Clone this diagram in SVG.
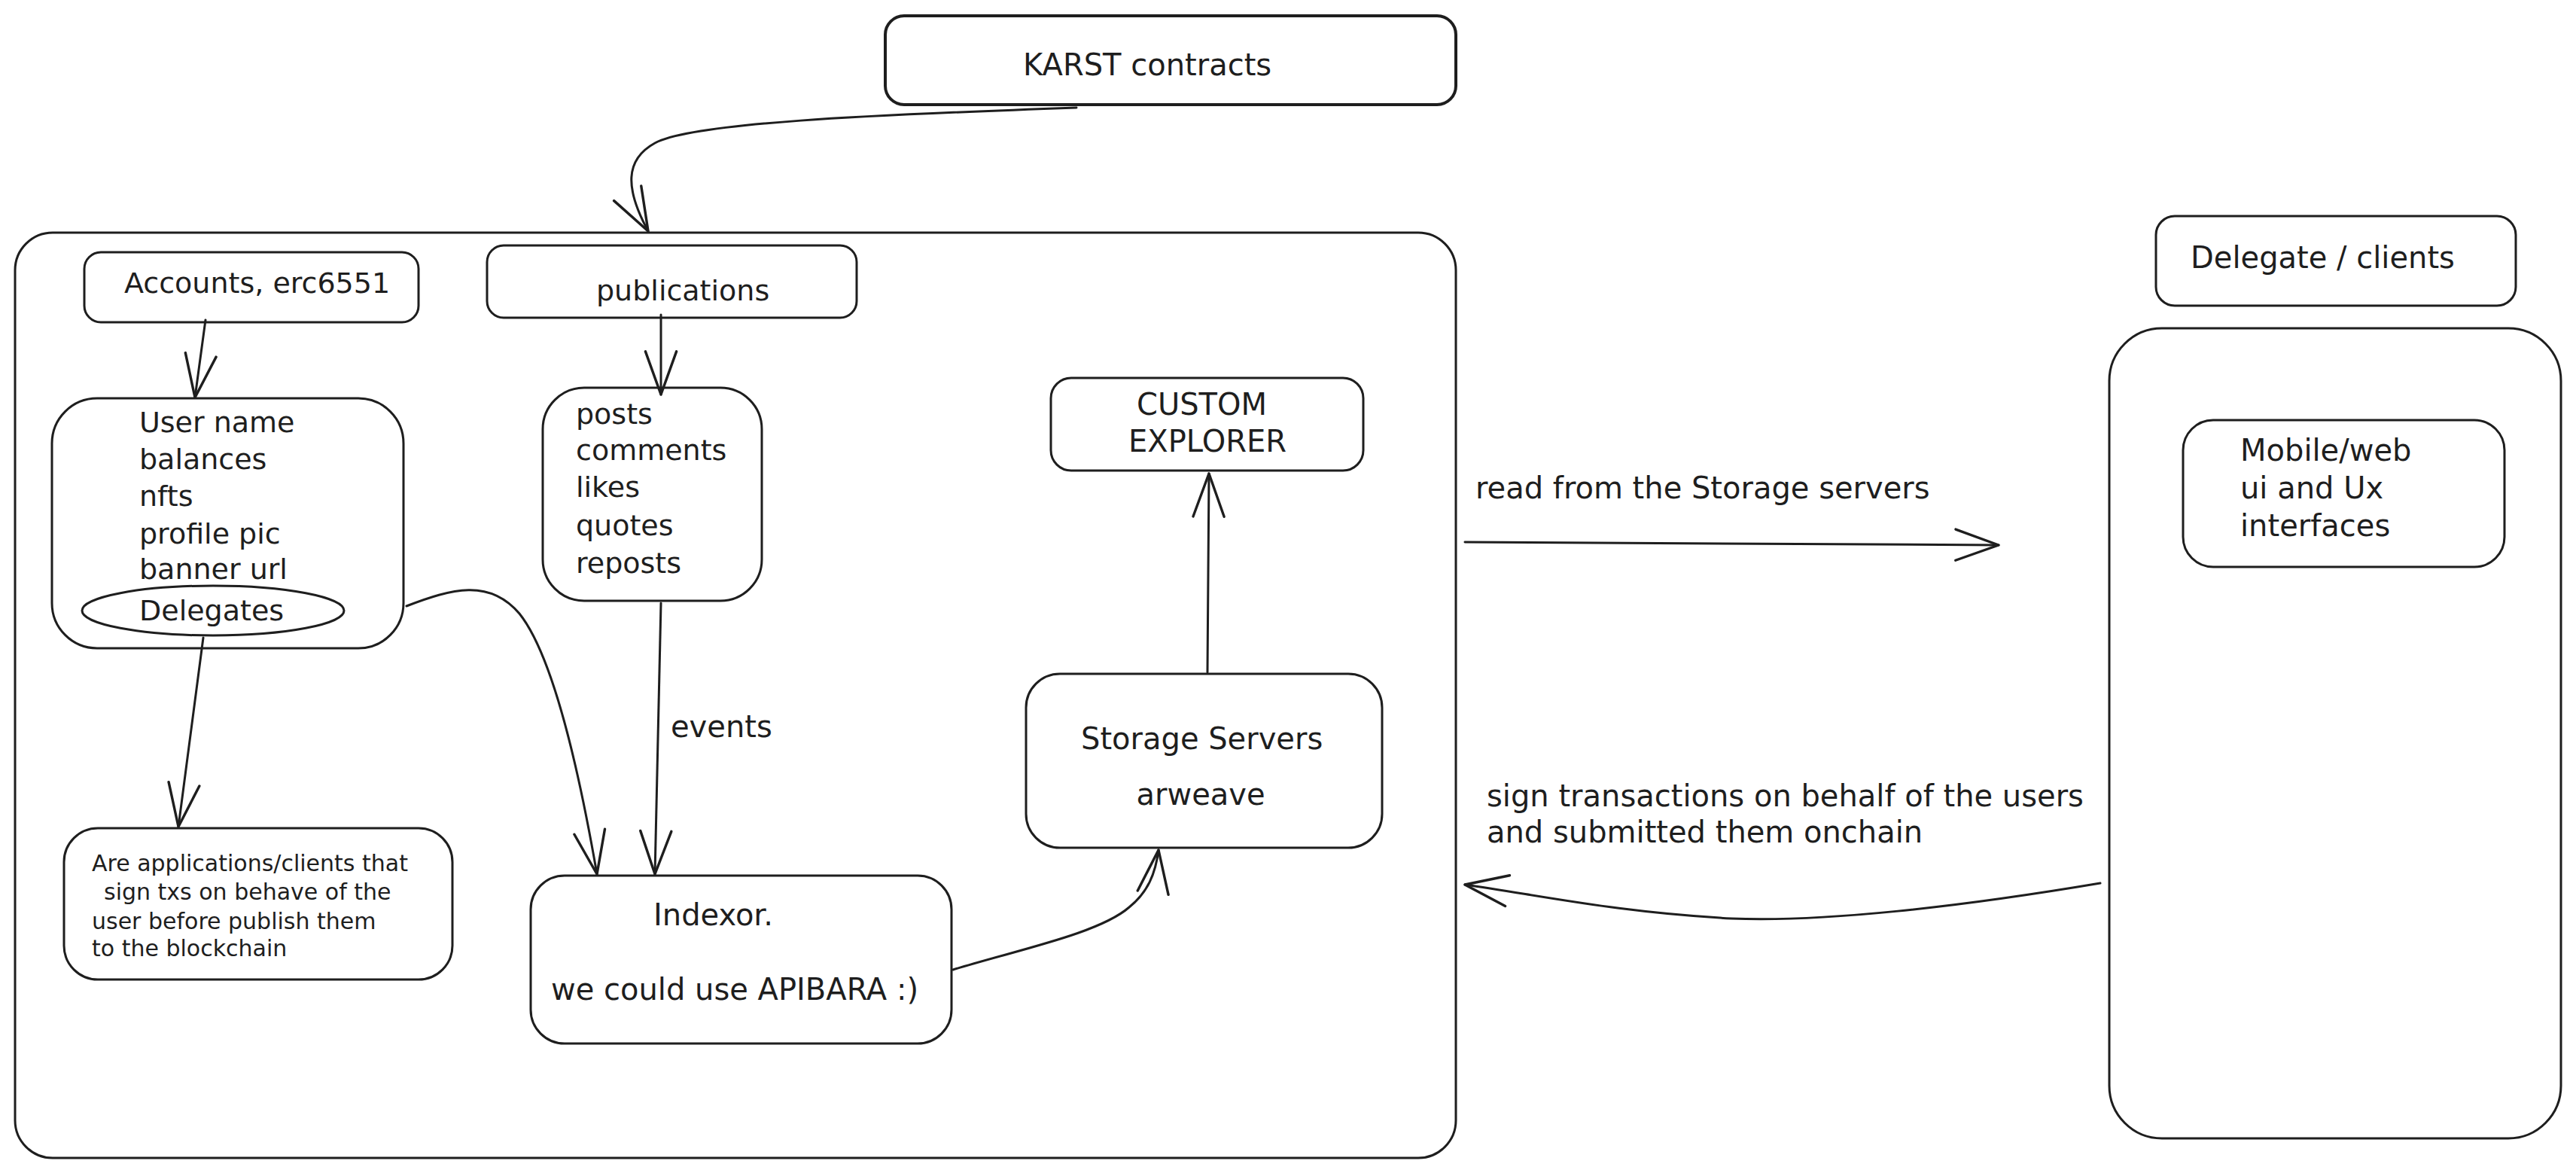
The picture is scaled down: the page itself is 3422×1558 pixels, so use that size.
<svg xmlns="http://www.w3.org/2000/svg" width="3422" height="1558" viewBox="0 0 3422 1558">
<defs>
<style>
.b{fill:none;stroke:#1e1e1e;stroke-width:3;stroke-linecap:round;stroke-linejoin:round}
.t{font-family:"DejaVu Sans",sans-serif;font-size:40px;fill:#1e1e1e}
.s{font-size:38px}
.x{font-size:30px}
.c{fill:none;stroke:#1e1e1e;stroke-width:3;stroke-linecap:round;stroke-linejoin:round;marker-end:url(#ah)}
</style>
<marker id="ah" markerUnits="userSpaceOnUse" markerWidth="80" markerHeight="80" viewBox="-60 -30 70 60" refX="0" refY="0" orient="auto">
<path d="M-50,-18 L0,0 L-50,18" fill="none" stroke="#1e1e1e" stroke-width="3" stroke-linecap="round" stroke-linejoin="round"/>
</marker>
</defs>
<rect width="3422" height="1558" fill="#ffffff"/>

<g id="outer-box"><rect class="b" x="20" y="309" width="1914" height="1229" rx="50"/></g>

<g id="karst"><rect class="b" style="stroke-width:4" x="1176" y="21" width="758" height="118" rx="25"/>
<text class="t" x="1359" y="100">KARST contracts</text></g>

<g id="accounts"><rect class="b" x="112" y="335" width="444" height="93" rx="22"/>
<text class="t s" x="165" y="389">Accounts, erc6551</text></g>

<g id="publications"><rect class="b" x="647" y="326" width="491" height="96" rx="22"/>
<text class="t s" x="792" y="399">publications</text></g>

<g id="user-fields"><rect class="b" x="69" y="529" width="467" height="332" rx="60"/>
<text class="t s" x="185" y="574">User name</text>
<text class="t s" x="185" y="623">balances</text>
<text class="t s" x="185" y="672">nfts</text>
<text class="t s" x="185" y="722">profile pic</text>
<text class="t s" x="185" y="769">banner url</text></g>

<g id="delegates"><ellipse class="b" cx="283" cy="811" rx="174" ry="33"/>
<text class="t s" x="185" y="824">Delegates</text></g>

<g id="publication-types"><rect class="b" x="721" y="515" width="291" height="283" rx="55"/>
<text class="t s" x="765" y="563">posts</text>
<text class="t s" x="765" y="611">comments</text>
<text class="t s" x="765" y="660">likes</text>
<text class="t s" x="765" y="711">quotes</text>
<text class="t s" x="765" y="761">reposts</text></g>

<g id="delegates-note"><rect class="b" x="85" y="1100" width="516" height="201" rx="45"/>
<text class="t x" x="122" y="1157">Are applications/clients that</text>
<text class="t x" x="138" y="1195">sign txs on behave of the</text>
<text class="t x" x="122" y="1234">user before publish them</text>
<text class="t x" x="122" y="1270">to the blockchain</text></g>

<g id="indexor"><rect class="b" x="705" y="1163" width="559" height="223" rx="45"/>
<text class="t" x="868" y="1229">Indexor.</text>
<text class="t" x="732" y="1328">we could use APIBARA :)</text></g>

<g id="storage"><rect class="b" x="1363" y="895" width="473" height="231" rx="45"/>
<text class="t" x="1436" y="995">Storage Servers</text>
<text class="t" x="1595" y="1069" text-anchor="middle">arweave</text></g>

<g id="explorer"><rect class="b" x="1396" y="502" width="415" height="123" rx="27"/>
<text class="t" x="1510" y="551">CUSTOM</text>
<text class="t" x="1499" y="600">EXPLORER</text></g>

<g id="delegate-clients"><rect class="b" x="2864" y="287" width="478" height="119" rx="25"/>
<text class="t" x="2910" y="356">Delegate / clients</text></g>

<g id="clients-box"><rect class="b" x="2802" y="436" width="600" height="1076" rx="70"/></g>

<g id="mobile-web"><rect class="b" x="2900" y="558" width="427" height="195" rx="40"/>
<text class="t" x="2976" y="612">Mobile/web</text>
<text class="t" x="2976" y="662">ui and Ux</text>
<text class="t" x="2976" y="712">interfaces</text></g>

<g id="connectors">
<path class="c" d="M1430,143 C1150,153 920,163 870,190 C830,212 830,250 861,307"/>
<path class="c" d="M273,425 L259,528"/>
<path class="c" d="M878,418 L878,524"/>
<path class="c" d="M270,847 L237,1098"/>
<path class="c" d="M540,805 C600,782 650,768 690,815 C730,865 765,1000 793,1161"/>
<path class="c" d="M878,801 L870,1161"/>
<path class="c" d="M1266,1288 C1350,1262 1460,1240 1500,1205 C1525,1185 1535,1160 1539,1129"/>
<path class="c" d="M1604,893 L1606,629"/>
<path class="c" d="M1946,720 L2655,724"/>
<path class="c" d="M2790,1173 C2600,1205 2420,1225 2300,1220 C2150,1212 2050,1190 1946,1175"/>
<text class="t" x="891" y="979">events</text>
<text class="t" x="1960" y="662">read from the Storage servers</text>
<text class="t" x="1975" y="1071">sign transactions on behalf of the users</text>
<text class="t" x="1975" y="1119">and submitted them onchain</text>
</g>
</svg>
